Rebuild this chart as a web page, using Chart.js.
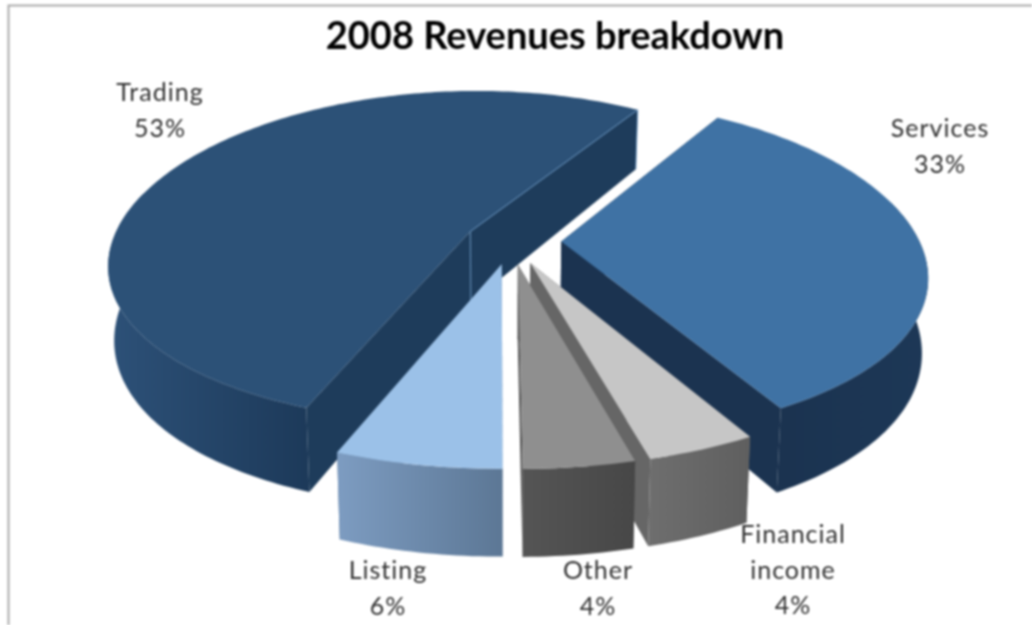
<!DOCTYPE html>
<html>
<head>
<meta charset="utf-8">
<title>2008 Revenues breakdown</title>
<script src="https://cdn.jsdelivr.net/npm/chart.js@4"></script>
<style>
html,body{margin:0;padding:0;background:#fff;overflow:hidden}
canvas{display:block;filter:blur(0.8px)}
</style>
</head>
<body>
<canvas id="c" width="1032" height="625"></canvas>
<script>
const chartTitle = "2008 Revenues breakdown";
const categories = ["Services", "Financial income", "Other", "Listing", "Trading"];
const shares = [33, 4, 4, 6, 53];

const topColors   = ["#3F72A4", "#C6C6C6", "#8F8F8F", "#9BC1E8", "#2C5177"];
const sideColors  = ["#1B3350", "#666666", "#4E4E4E", "#5F7A98", "#1E3C5B"];
const wallLeft    = ["#1B3350", "#6E6E6E", "#555555", "#7D9CC1", "#2D5178"];
const wallRight   = ["#1D3857", "#5F5F5F", "#474747", "#5C7795", "#1D3A5A"];
const sliceOffsets = [24, 24, 24, 24, 22];
const labelAnchors = [[940,129],[793,535],[598,571],[388,571],[160,93]];

const view = {shiftX:-44, kx:0.19, ky:0.154, A:358, B:165, depth0:72, depthY:14, shrink:0.985};

function project(X, Y, ox, oy, bottom){
  let sx = view.A * X / (1 - view.kx * Y), sy = view.B * Y / (1 - view.ky * Y);
  if (bottom){ sx *= view.shrink; sy += view.depth0 + view.depthY * Y; }
  return [ox + sx, oy + sy];
}
function tracePoly(ctx, pts){
  ctx.beginPath();
  pts.forEach((p,i)=> i ? ctx.lineTo(p[0],p[1]) : ctx.moveTo(p[0],p[1]));
  ctx.closePath();
}

const pie3d = {
  id:'pie3d',
  beforeDatasetDraw(chart){
    const ctx = chart.ctx;
    const meta = chart.getDatasetMeta(0);
    const order = meta.data.map((el,i)=>i).sort((a,b)=>{
      const mid = i => (meta.data[i].startAngle + meta.data[i].endAngle)/2;
      return Math.sin(mid(a)) - Math.sin(mid(b));
    });
    order.forEach(i=>{
      const el = meta.data[i];
      const ox = el.x + view.shiftX, oy = el.y;
      const mid = (el.startAngle + el.endAngle)/2;
      const d = el.options.offset / 171;
      const ax = Math.cos(mid)*d, ay = Math.sin(mid)*d;
      const arc = [];
      const steps = Math.max(8, Math.round((el.endAngle-el.startAngle)*180/Math.PI));
      for (let s=0;s<=steps;s++){
        const t = el.startAngle + (el.endAngle-el.startAngle)*s/steps;
        arc.push([ax+Math.cos(t), ay+Math.sin(t), Math.sin(t)]);
      }
      const topPts = arc.map(p=>project(p[0],p[1],ox,oy,false));
      const botPts = arc.map(p=>project(p[0],p[1],ox,oy,true));
      const apexT = project(ax,ay,ox,oy,false), apexB = project(ax,ay,ox,oy,true);
      // radial side walls
      ctx.fillStyle = sideColors[i];
      tracePoly(ctx,[apexT,topPts[0],botPts[0],apexB]); ctx.fill();
      tracePoly(ctx,[apexT,topPts[steps],botPts[steps],apexB]); ctx.fill();
      // outer curved wall
      const vis = arc.map((p,n)=>p[2]>-0.25?n:-1).filter(n=>n>=0);
      if (vis.length>1){
        const xs = vis.map(n=>topPts[n][0]);
        const g = ctx.createLinearGradient(Math.min(...xs),0,Math.max(...xs),0);
        g.addColorStop(0,wallLeft[i]); g.addColorStop(1,wallRight[i]);
        ctx.fillStyle = g;
        tracePoly(ctx, vis.map(n=>topPts[n]).concat(vis.map(n=>botPts[n]).reverse()));
        ctx.fill();
      }
      // top face
      ctx.fillStyle = el.options.backgroundColor;
      tracePoly(ctx,[apexT].concat(topPts)); ctx.fill();
      if (i === categories.indexOf("Trading")){
        ctx.strokeStyle = "rgba(110,160,210,0.75)"; ctx.lineWidth = 1;
        ctx.beginPath();
        ctx.moveTo(topPts[steps][0],topPts[steps][1]);
        ctx.lineTo(apexT[0],apexT[1]);
        ctx.moveTo(apexT[0],apexT[1]); ctx.lineTo(apexB[0],apexB[1]);
        ctx.moveTo(topPts[steps][0],topPts[steps][1]); ctx.lineTo(botPts[steps][0],botPts[steps][1]);
        ctx.stroke();
      }
    });
    return false;
  },
  afterDraw(chart){
    const ctx = chart.ctx;
    ctx.save();
    ctx.strokeStyle = "#A9A9A9"; ctx.lineWidth = 2;
    ctx.beginPath(); ctx.moveTo(8.5,625); ctx.lineTo(8.5,5.5); ctx.lineTo(1032,5.5); ctx.stroke();
    ctx.fillStyle = "#303030";
    ctx.font = "25px Lato";
    ctx.letterSpacing = "1px";
    ctx.textAlign = "center"; ctx.textBaseline = "middle";
    categories.forEach((name,i)=>{
      const lines = name.split(" ").concat([shares[i]+"%"]);
      const [x,y] = labelAnchors[i];
      const gap = 35.5;
      lines.forEach((t,n)=>ctx.fillText(t,x,y+n*gap));
    });
    ctx.restore();
  }
};

new Chart(document.getElementById('c'),{
  type:'pie',
  data:{labels:categories,datasets:[{data:shares,backgroundColor:topColors,offset:sliceOffsets,borderWidth:0}]},
  options:{
    responsive:false,animation:false,rotation:32,
    layout:{padding:{left:78,right:0,top:0,bottom:209}},
    plugins:{
      legend:{display:false},tooltip:{enabled:false},
      title:{display:true,text:chartTitle,color:"#000",font:{family:"Lato",size:38,weight:"bold"},padding:{top:14,bottom:6.4}}
    }
  },
  plugins:[pie3d]
});
</script>
</body>
</html>
